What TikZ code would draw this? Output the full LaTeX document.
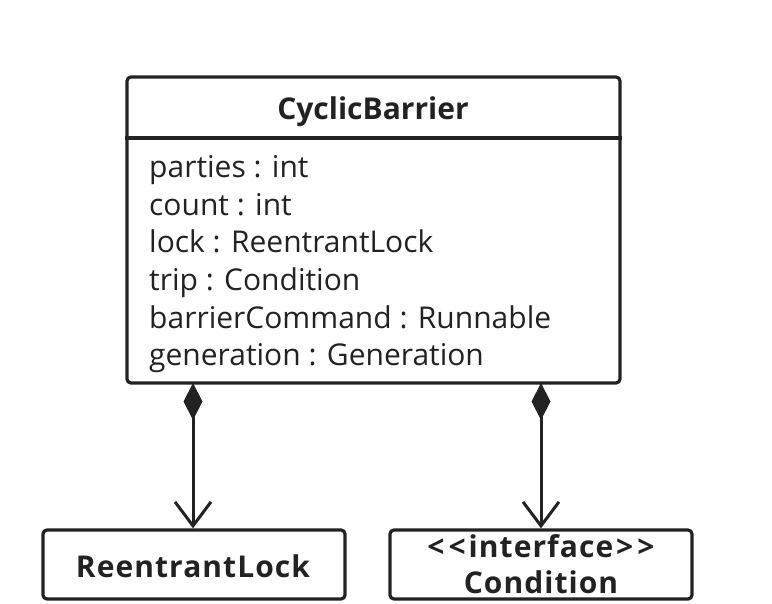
\documentclass[tikz,border=0pt]{standalone}
\usepackage{fontspec}
\setmainfont{Open Sans}
\usetikzlibrary{arrows.meta}
\definecolor{ink}{HTML}{222222}
\begin{document}
\begin{tikzpicture}[x=1pt,y=-1pt,
  box/.style={draw=ink,line width=3.2pt,rounded corners=4pt},
  attr/.style={anchor=base west,inner sep=0pt,text=ink,font=\fontsize{30}{36}\selectfont},
  ttl/.style={anchor=base,inner sep=0pt,text=ink,font=\fontsize{30}{36}\selectfont\bfseries},
  wide/.style={ttl,font=\fontsize{30}{36}\selectfont\bfseries\addfontfeatures{LetterSpace=3.5}},
  comp/.style={draw=ink,line width=3pt,
    {Diamond[length=37pt,width=19pt]}-{Straight Barb[length=24pt,width=36pt,line width=3pt]}}]
\useasboundingbox (0,0) rectangle (772,604);
\node[box,minimum width=493pt,minimum height=306pt,inner sep=0pt] (main) at (373.5,230) {};
\draw[draw=ink,line width=3.2pt] (main.west |- 0,138) -- (main.east |- 0,138);
\node[ttl] (title) at (373,120) {CyclicBarrier};
\node[attr] (a1) at (149,178) {parties : int};
\node[attr] (a2) at (149,215.5) {count : int};
\node[attr] (a3) at (149,253) {lock : ReentrantLock};
\node[attr] (a4) at (149,291) {trip : Condition};
\node[attr] (a5) at (149,328.5) {barrierCommand : Runnable};
\node[attr] (a6) at (149,366) {generation : Generation};
\node[box,minimum width=302pt,minimum height=69pt,inner sep=0pt] (rl) at (194,564.5) {};
\node[wide] (rlt) at (193,577) {ReentrantLock};
\node[box,minimum width=302pt,minimum height=69pt,inner sep=0pt] (cond) at (541,564.5) {};
\node[wide] (st) at (541,557) {<\kern4pt<\kern3pt interface\kern3pt>\kern4pt>};
\node[wide] (ct) at (541,593) {Condition};
\coordinate (s1) at (193,383);
\coordinate (s2) at (541,383);
\draw[comp] (s1) -- (rl.north -| s1);
\draw[comp] (s2) -- (cond.north -| s2);
\end{tikzpicture}
\end{document}
